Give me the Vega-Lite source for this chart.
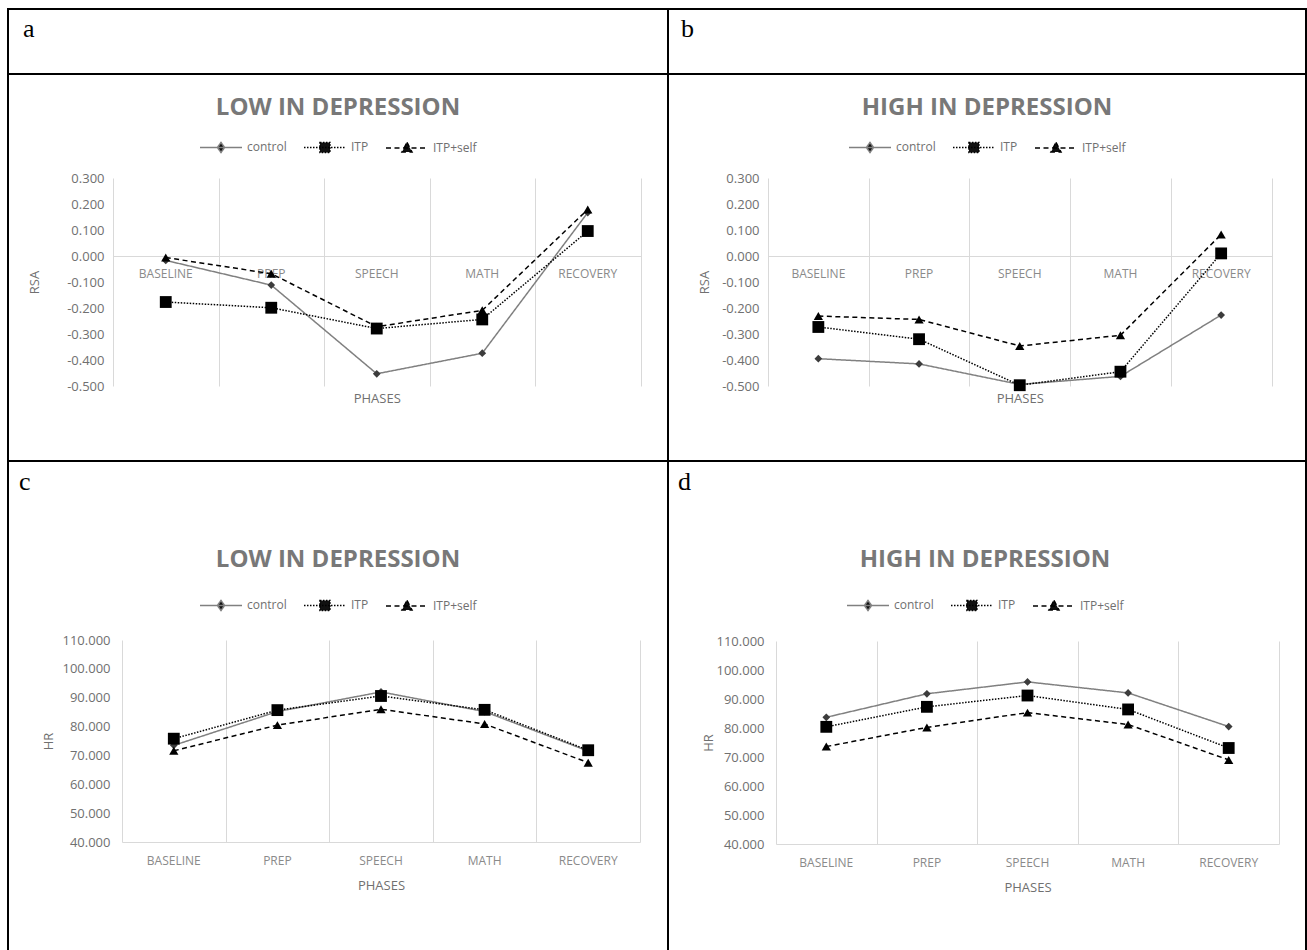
{
  "$schema": "https://vega.github.io/schema/vega-lite/v6.json",
  "padding": {"left": 7, "top": 8, "right": 0, "bottom": 0},
  "background": "white",
  "spacing": 0,
  "bounds": "flush",
  "align": "each",
  "columns": 2,
  "resolve": {
    "scale": {"x": "independent", "y": "independent", "color": "independent"},
    "axis": {"x": "independent", "y": "independent"},
    "legend": {"color": "independent"}
  },
  "config": {
    "view": {"stroke": "#000000", "strokeWidth": 2},
    "axis": {"labelFont": "Open Sans", "labelFontSize": 13, "labelColor": "#707070", "titleFont": "Open Sans", "titleFontSize": 13, "titleFontWeight": "normal", "titleColor": "#707070", "ticks": false, "tickSize": 0, "domain": false, "grid": false},
    "legend": {"orient": "none", "direction": "horizontal", "titleFont": "Open Sans", "titleFontSize": 24, "titleFontWeight": "bold", "titleColor": "#787878", "titleAnchor": "middle", "titleLimit": 500, "labelFont": "Open Sans", "labelFontSize": 12, "labelColor": "#707070", "labelOffset": 4, "symbolSize": 1764, "columnPadding": 14, "symbolStrokeWidth": 1.5},
    "title": {"font": "Liberation Serif", "fontSize": 26, "fontWeight": "normal", "color": "#000000", "anchor": "start", "frame": "group", "baseline": "alphabetic", "orient": "top"}
  },
  "datasets": {
    "d": [
      {"panel": "a", "phase": "BASELINE", "group": "control", "value": -0.017},
      {"panel": "a", "phase": "PREP", "group": "control", "value": -0.112},
      {"panel": "a", "phase": "SPEECH", "group": "control", "value": -0.453},
      {"panel": "a", "phase": "MATH", "group": "control", "value": -0.374},
      {"panel": "a", "phase": "RECOVERY", "group": "control", "value": 0.167},
      {"panel": "a", "phase": "BASELINE", "group": "ITP", "value": -0.177},
      {"panel": "a", "phase": "PREP", "group": "ITP", "value": -0.199},
      {"panel": "a", "phase": "SPEECH", "group": "ITP", "value": -0.279},
      {"panel": "a", "phase": "MATH", "group": "ITP", "value": -0.244},
      {"panel": "a", "phase": "RECOVERY", "group": "ITP", "value": 0.096},
      {"panel": "a", "phase": "BASELINE", "group": "ITP+self", "value": -0.006},
      {"panel": "a", "phase": "PREP", "group": "ITP+self", "value": -0.068},
      {"panel": "a", "phase": "SPEECH", "group": "ITP+self", "value": -0.272},
      {"panel": "a", "phase": "MATH", "group": "ITP+self", "value": -0.209},
      {"panel": "a", "phase": "RECOVERY", "group": "ITP+self", "value": 0.179},
      {"panel": "b", "phase": "BASELINE", "group": "control", "value": -0.395},
      {"panel": "b", "phase": "PREP", "group": "control", "value": -0.415},
      {"panel": "b", "phase": "SPEECH", "group": "control", "value": -0.494},
      {"panel": "b", "phase": "MATH", "group": "control", "value": -0.463},
      {"panel": "b", "phase": "RECOVERY", "group": "control", "value": -0.227},
      {"panel": "b", "phase": "BASELINE", "group": "ITP", "value": -0.273},
      {"panel": "b", "phase": "PREP", "group": "ITP", "value": -0.32},
      {"panel": "b", "phase": "SPEECH", "group": "ITP", "value": -0.497},
      {"panel": "b", "phase": "MATH", "group": "ITP", "value": -0.445},
      {"panel": "b", "phase": "RECOVERY", "group": "ITP", "value": 0.01},
      {"panel": "b", "phase": "BASELINE", "group": "ITP+self", "value": -0.231},
      {"panel": "b", "phase": "PREP", "group": "ITP+self", "value": -0.244},
      {"panel": "b", "phase": "SPEECH", "group": "ITP+self", "value": -0.346},
      {"panel": "b", "phase": "MATH", "group": "ITP+self", "value": -0.305},
      {"panel": "b", "phase": "RECOVERY", "group": "ITP+self", "value": 0.083},
      {"panel": "c", "phase": "BASELINE", "group": "control", "value": 73.5},
      {"panel": "c", "phase": "PREP", "group": "control", "value": 85.2},
      {"panel": "c", "phase": "SPEECH", "group": "control", "value": 92.0},
      {"panel": "c", "phase": "MATH", "group": "control", "value": 85.2},
      {"panel": "c", "phase": "RECOVERY", "group": "control", "value": 71.5},
      {"panel": "c", "phase": "BASELINE", "group": "ITP", "value": 75.8},
      {"panel": "c", "phase": "PREP", "group": "ITP", "value": 85.7},
      {"panel": "c", "phase": "SPEECH", "group": "ITP", "value": 90.6},
      {"panel": "c", "phase": "MATH", "group": "ITP", "value": 85.8},
      {"panel": "c", "phase": "RECOVERY", "group": "ITP", "value": 71.8},
      {"panel": "c", "phase": "BASELINE", "group": "ITP+self", "value": 71.6},
      {"panel": "c", "phase": "PREP", "group": "ITP+self", "value": 80.5},
      {"panel": "c", "phase": "SPEECH", "group": "ITP+self", "value": 86.0},
      {"panel": "c", "phase": "MATH", "group": "ITP+self", "value": 80.9},
      {"panel": "c", "phase": "RECOVERY", "group": "ITP+self", "value": 67.5},
      {"panel": "d", "phase": "BASELINE", "group": "control", "value": 83.7},
      {"panel": "d", "phase": "PREP", "group": "control", "value": 91.8},
      {"panel": "d", "phase": "SPEECH", "group": "control", "value": 95.9},
      {"panel": "d", "phase": "MATH", "group": "control", "value": 92.1},
      {"panel": "d", "phase": "RECOVERY", "group": "control", "value": 80.5},
      {"panel": "d", "phase": "BASELINE", "group": "ITP", "value": 80.4},
      {"panel": "d", "phase": "PREP", "group": "ITP", "value": 87.3},
      {"panel": "d", "phase": "SPEECH", "group": "ITP", "value": 91.2},
      {"panel": "d", "phase": "MATH", "group": "ITP", "value": 86.4},
      {"panel": "d", "phase": "RECOVERY", "group": "ITP", "value": 73.1},
      {"panel": "d", "phase": "BASELINE", "group": "ITP+self", "value": 73.6},
      {"panel": "d", "phase": "PREP", "group": "ITP+self", "value": 80.2},
      {"panel": "d", "phase": "SPEECH", "group": "ITP+self", "value": 85.3},
      {"panel": "d", "phase": "MATH", "group": "ITP+self", "value": 81.2},
      {"panel": "d", "phase": "RECOVERY", "group": "ITP+self", "value": 69.0}
    ]
  },
  "concat": [
    {"width": 660, "height": 65, "data": {"values": [{"k": "a"}]}, "mark": {"type": "text", "text": ""},
     "encoding": {"x": {"field": "k", "type": "nominal", "axis": null}, "y": {"field": "k", "type": "nominal", "axis": null}},
     "title": {"text": "a", "offset": -33, "dx": 15}},
    {"width": 638, "height": 65, "data": {"values": [{"k": "b"}]}, "mark": {"type": "text", "text": ""},
     "encoding": {"x": {"field": "k", "type": "nominal", "axis": null}, "y": {"field": "k", "type": "nominal", "axis": null}},
     "title": {"text": "b", "offset": -33, "dx": 13}},
    {
      "width": 660, "height": 387,
      "data": {"name": "d"},
      "transform": [{"filter": "datum.panel === 'a'"}],
      "resolve": {"axis": {"x": "independent"}},
      "encoding": {
        "y": {"field": "value", "type": "quantitative",
          "scale": {"domain": [-0.5, 0.3], "range": [312, 104], "nice": false, "zero": false},
          "axis": {"orient": "left", "offset": -105, "values": [-0.5, -0.4, -0.3, -0.2, -0.1, 0, 0.1, 0.2, 0.3], "labelExpr": "replace(format(datum.value, '.3f'), '\u2212', '-')", "labelPadding": 9, "title": "RSA", "titleX": -79, "titleBaseline": "middle"}}
      },
      "layer": [
        {"mark": {"type": "line", "strokeWidth": 1.5},
         "encoding": {
           "x": {"field": "phase", "type": "nominal",
             "scale": {"type": "band", "domain": ["BASELINE", "PREP", "SPEECH", "MATH", "RECOVERY"], "range": [105, 632.5], "paddingInner": 0, "paddingOuter": 0},
             "axis": {"orient": "bottom", "offset": -205, "domain": true, "domainColor": "#d9d9d9", "domainWidth": 1, "labelAngle": 0, "labelFontSize": 12, "labelColor": "#8a8a8a", "labelPadding": 12, "title": "PHASES", "titleY": 142, "titleBaseline": "middle"}},
           "color": {"field": "group", "type": "nominal", "scale": {"domain": ["control", "ITP", "ITP+self"], "range": ["#808080", "#000000", "#000000"]},
             "legend": {"title": "LOW IN DEPRESSION", "legendX": 191, "legendY": 22, "titlePadding": 5, "symbolSize": 1764,
               "encode": {"symbols": {"update": {
                 "shape": {"signal": "datum.value === 'control' ? 'M-1,0L1,0M0,-0.24L0.17,0L0,0.24L-0.17,0Z' : (datum.value === 'ITP' ? 'M-1,0L1,0M-0.24,-0.24L0.24,-0.24L0.24,0.24L-0.24,0.24Z' : 'M-1,0L1,0M0,-0.26L0.24,0.2L-0.24,0.2Z')"},
                 "fill": {"value": "#111111"},
                 "stroke": {"signal": "datum.value === 'control' ? '#808080' : '#000000'"},
                 "strokeWidth": {"value": 1.5},
                 "strokeDash": {"signal": "datum.value === 'ITP' ? [1.5,1.5] : (datum.value === 'ITP+self' ? [5,3.5] : [1,0])"}}}}}},
           "strokeDash": {"condition": [{"test": "datum.group === 'ITP'", "value": [1.5, 1.5]}, {"test": "datum.group === 'ITP+self'", "value": [5, 3.5]}], "value": [1, 0]}
         }},
        {"mark": {"type": "point", "filled": true, "opacity": 1},
         "encoding": {
           "x": {"field": "phase", "type": "nominal",
             "axis": {"orient": "top", "tickBand": "extent", "grid": true, "gridColor": "#d9d9d9", "gridWidth": 1, "labels": false, "domain": false, "ticks": false, "title": null}},
           "shape": {"condition": [{"test": "datum.group === 'control'", "value": "diamond"}, {"test": "datum.group === 'ITP'", "value": "square"}], "value": "triangle-up"},
           "size": {"condition": [{"test": "datum.group === 'control'", "value": 60}, {"test": "datum.group === 'ITP'", "value": 140}], "value": 85},
           "color": {"condition": {"test": "datum.group === 'control'", "value": "#3c3c3c"}, "value": "#000000"}
         }}
      ]
    },
    {
      "width": 638, "height": 387,
      "data": {"name": "d"},
      "transform": [{"filter": "datum.panel === 'b'"}],
      "resolve": {"axis": {"x": "independent"}},
      "encoding": {
        "y": {"field": "value", "type": "quantitative",
          "scale": {"domain": [-0.5, 0.3], "range": [312, 104], "nice": false, "zero": false},
          "axis": {"orient": "left", "offset": -100, "values": [-0.5, -0.4, -0.3, -0.2, -0.1, 0, 0.1, 0.2, 0.3], "labelExpr": "replace(format(datum.value, '.3f'), '\u2212', '-')", "labelPadding": 9, "title": "RSA", "titleX": -64, "titleBaseline": "middle"}}
      },
      "layer": [
        {"mark": {"type": "line", "strokeWidth": 1.5},
         "encoding": {
           "x": {"field": "phase", "type": "nominal",
             "scale": {"type": "band", "domain": ["BASELINE", "PREP", "SPEECH", "MATH", "RECOVERY"], "range": [100, 603.5], "paddingInner": 0, "paddingOuter": 0},
             "axis": {"orient": "bottom", "offset": -205, "domain": true, "domainColor": "#d9d9d9", "domainWidth": 1, "labelAngle": 0, "labelFontSize": 12, "labelColor": "#8a8a8a", "labelPadding": 12, "title": "PHASES", "titleY": 142, "titleBaseline": "middle"}},
           "color": {"field": "group", "type": "nominal", "scale": {"domain": ["control", "ITP", "ITP+self"], "range": ["#808080", "#000000", "#000000"]},
             "legend": {"title": "HIGH IN DEPRESSION", "legendX": 180, "legendY": 22, "titlePadding": 5, "symbolSize": 1764,
               "encode": {"symbols": {"update": {
                 "shape": {"signal": "datum.value === 'control' ? 'M-1,0L1,0M0,-0.24L0.17,0L0,0.24L-0.17,0Z' : (datum.value === 'ITP' ? 'M-1,0L1,0M-0.24,-0.24L0.24,-0.24L0.24,0.24L-0.24,0.24Z' : 'M-1,0L1,0M0,-0.26L0.24,0.2L-0.24,0.2Z')"},
                 "fill": {"value": "#111111"},
                 "stroke": {"signal": "datum.value === 'control' ? '#808080' : '#000000'"},
                 "strokeWidth": {"value": 1.5},
                 "strokeDash": {"signal": "datum.value === 'ITP' ? [1.5,1.5] : (datum.value === 'ITP+self' ? [5,3.5] : [1,0])"}}}}}},
           "strokeDash": {"condition": [{"test": "datum.group === 'ITP'", "value": [1.5, 1.5]}, {"test": "datum.group === 'ITP+self'", "value": [5, 3.5]}], "value": [1, 0]}
         }},
        {"mark": {"type": "point", "filled": true, "opacity": 1},
         "encoding": {
           "x": {"field": "phase", "type": "nominal",
             "axis": {"orient": "top", "tickBand": "extent", "grid": true, "gridColor": "#d9d9d9", "gridWidth": 1, "labels": false, "domain": false, "ticks": false, "title": null}},
           "shape": {"condition": [{"test": "datum.group === 'control'", "value": "diamond"}, {"test": "datum.group === 'ITP'", "value": "square"}], "value": "triangle-up"},
           "size": {"condition": [{"test": "datum.group === 'control'", "value": 60}, {"test": "datum.group === 'ITP'", "value": 140}], "value": 85},
           "color": {"condition": {"test": "datum.group === 'control'", "value": "#3c3c3c"}, "value": "#000000"}
         }}
      ]
    },
    {
      "width": 660, "height": 492,
      "title": {"text": "c", "offset": -34, "dx": 11},
      "data": {"name": "d"},
      "transform": [{"filter": "datum.panel === 'c'"}],
      "resolve": {"axis": {"x": "independent"}},
      "encoding": {
        "y": {"field": "value", "type": "quantitative",
          "scale": {"domain": [40, 110], "range": [381, 179], "nice": false, "zero": false},
          "axis": {"orient": "left", "offset": -114, "values": [40, 50, 60, 70, 80, 90, 100, 110], "labelExpr": "replace(format(datum.value, '.3f'), '\u2212', '-')", "labelPadding": 12, "title": "HR", "titleX": -74, "titleBaseline": "middle"}}
      },
      "layer": [
        {"mark": {"type": "line", "strokeWidth": 1.5},
         "encoding": {
           "x": {"field": "phase", "type": "nominal",
             "scale": {"type": "band", "domain": ["BASELINE", "PREP", "SPEECH", "MATH", "RECOVERY"], "range": [114, 632], "paddingInner": 0, "paddingOuter": 0},
             "axis": {"orient": "bottom", "offset": -111, "domain": true, "domainColor": "#d9d9d9", "domainWidth": 1, "labelAngle": 0, "labelFontSize": 12, "labelColor": "#8a8a8a", "labelPadding": 13, "title": "PHASES", "titleY": 43, "titleBaseline": "middle"}},
           "color": {"field": "group", "type": "nominal", "scale": {"domain": ["control", "ITP", "ITP+self"], "range": ["#808080", "#000000", "#000000"]},
             "legend": {"title": "LOW IN DEPRESSION", "legendX": 191, "legendY": 87, "titlePadding": 11, "symbolSize": 1764,
               "encode": {"symbols": {"update": {
                 "shape": {"signal": "datum.value === 'control' ? 'M-1,0L1,0M0,-0.24L0.17,0L0,0.24L-0.17,0Z' : (datum.value === 'ITP' ? 'M-1,0L1,0M-0.24,-0.24L0.24,-0.24L0.24,0.24L-0.24,0.24Z' : 'M-1,0L1,0M0,-0.26L0.24,0.2L-0.24,0.2Z')"},
                 "fill": {"value": "#111111"},
                 "stroke": {"signal": "datum.value === 'control' ? '#808080' : '#000000'"},
                 "strokeWidth": {"value": 1.5},
                 "strokeDash": {"signal": "datum.value === 'ITP' ? [1.5,1.5] : (datum.value === 'ITP+self' ? [5,3.5] : [1,0])"}}}}}},
           "strokeDash": {"condition": [{"test": "datum.group === 'ITP'", "value": [1.5, 1.5]}, {"test": "datum.group === 'ITP+self'", "value": [5, 3.5]}], "value": [1, 0]}
         }},
        {"mark": {"type": "point", "filled": true, "opacity": 1},
         "encoding": {
           "x": {"field": "phase", "type": "nominal",
             "axis": {"orient": "top", "tickBand": "extent", "grid": true, "gridColor": "#d9d9d9", "gridWidth": 1, "labels": false, "domain": false, "ticks": false, "title": null}},
           "shape": {"condition": [{"test": "datum.group === 'control'", "value": "diamond"}, {"test": "datum.group === 'ITP'", "value": "square"}], "value": "triangle-up"},
           "size": {"condition": [{"test": "datum.group === 'control'", "value": 60}, {"test": "datum.group === 'ITP'", "value": 140}], "value": 85},
           "color": {"condition": {"test": "datum.group === 'control'", "value": "#3c3c3c"}, "value": "#000000"}
         }}
      ]
    },
    {
      "width": 638, "height": 492,
      "title": {"text": "d", "offset": -34, "dx": 10},
      "data": {"name": "d"},
      "transform": [{"filter": "datum.panel === 'd'"}],
      "resolve": {"axis": {"x": "independent"}},
      "encoding": {
        "y": {"field": "value", "type": "quantitative",
          "scale": {"domain": [40, 110], "range": [383, 180], "nice": false, "zero": false},
          "axis": {"orient": "left", "offset": -108, "values": [40, 50, 60, 70, 80, 90, 100, 110], "labelExpr": "replace(format(datum.value, '.3f'), '\u2212', '-')", "labelPadding": 12, "title": "HR", "titleX": -68, "titleBaseline": "middle"}}
      },
      "layer": [
        {"mark": {"type": "line", "strokeWidth": 1.5},
         "encoding": {
           "x": {"field": "phase", "type": "nominal",
             "scale": {"type": "band", "domain": ["BASELINE", "PREP", "SPEECH", "MATH", "RECOVERY"], "range": [108, 611], "paddingInner": 0, "paddingOuter": 0},
             "axis": {"orient": "bottom", "offset": -109, "domain": true, "domainColor": "#d9d9d9", "domainWidth": 1, "labelAngle": 0, "labelFontSize": 12, "labelColor": "#8a8a8a", "labelPadding": 13, "title": "PHASES", "titleY": 43, "titleBaseline": "middle"}},
           "color": {"field": "group", "type": "nominal", "scale": {"domain": ["control", "ITP", "ITP+self"], "range": ["#808080", "#000000", "#000000"]},
             "legend": {"title": "HIGH IN DEPRESSION", "legendX": 178, "legendY": 87, "titlePadding": 11, "symbolSize": 1764,
               "encode": {"symbols": {"update": {
                 "shape": {"signal": "datum.value === 'control' ? 'M-1,0L1,0M0,-0.24L0.17,0L0,0.24L-0.17,0Z' : (datum.value === 'ITP' ? 'M-1,0L1,0M-0.24,-0.24L0.24,-0.24L0.24,0.24L-0.24,0.24Z' : 'M-1,0L1,0M0,-0.26L0.24,0.2L-0.24,0.2Z')"},
                 "fill": {"value": "#111111"},
                 "stroke": {"signal": "datum.value === 'control' ? '#808080' : '#000000'"},
                 "strokeWidth": {"value": 1.5},
                 "strokeDash": {"signal": "datum.value === 'ITP' ? [1.5,1.5] : (datum.value === 'ITP+self' ? [5,3.5] : [1,0])"}}}}}},
           "strokeDash": {"condition": [{"test": "datum.group === 'ITP'", "value": [1.5, 1.5]}, {"test": "datum.group === 'ITP+self'", "value": [5, 3.5]}], "value": [1, 0]}
         }},
        {"mark": {"type": "point", "filled": true, "opacity": 1},
         "encoding": {
           "x": {"field": "phase", "type": "nominal",
             "axis": {"orient": "top", "tickBand": "extent", "grid": true, "gridColor": "#d9d9d9", "gridWidth": 1, "labels": false, "domain": false, "ticks": false, "title": null}},
           "shape": {"condition": [{"test": "datum.group === 'control'", "value": "diamond"}, {"test": "datum.group === 'ITP'", "value": "square"}], "value": "triangle-up"},
           "size": {"condition": [{"test": "datum.group === 'control'", "value": 60}, {"test": "datum.group === 'ITP'", "value": 140}], "value": 85},
           "color": {"condition": {"test": "datum.group === 'control'", "value": "#3c3c3c"}, "value": "#000000"}
         }}
      ]
    }
  ]
}
